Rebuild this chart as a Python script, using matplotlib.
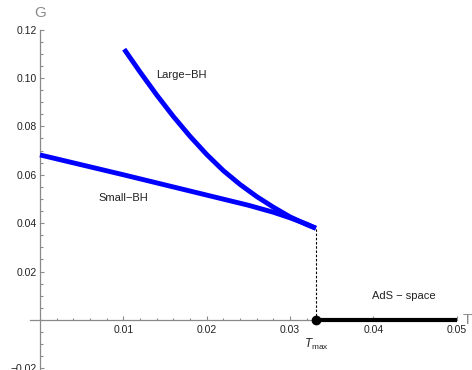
#!/usr/bin/env python3
"""Gibbs free energy G vs temperature T: small/large BH branches and AdS space."""

import matplotlib
matplotlib.use("Agg")
import matplotlib.pyplot as plt
from matplotlib.ticker import MultipleLocator, FixedLocator

# values
small_T = [0.0, 0.005, 0.010, 0.015, 0.020, 0.025, 0.028, 0.030, 0.032, 0.0331]
small_G = [0.0682, 0.0641, 0.0600, 0.0558, 0.0516, 0.0474, 0.0445, 0.0422, 0.0396, 0.0379]

large_T = [0.0101, 0.012, 0.014, 0.016, 0.018, 0.020, 0.022, 0.024, 0.026, 0.028,
           0.030, 0.032, 0.0331]
large_G = [0.1119, 0.1025, 0.0930, 0.0841, 0.0759, 0.0684, 0.0617, 0.0560, 0.0510,
           0.0466, 0.0426, 0.0394, 0.0379]

T_max = 0.0331
G_at_Tmax = 0.0379
ads_T = [T_max, 0.05]
ads_G = [0.0, 0.0]

x_ticks = [0.01, 0.02, 0.03, 0.04, 0.05]
y_ticks = [-0.02, 0.02, 0.04, 0.06, 0.08, 0.10, 0.12]

plt.rcParams["font.family"] = ["Liberation Sans", "DejaVu Sans"]
plt.rcParams["mathtext.fontset"] = "custom"
plt.rcParams["mathtext.rm"] = "Liberation Sans"
plt.rcParams["mathtext.it"] = "Liberation Sans:italic"

W, H = 472, 370
fig = plt.figure(figsize=(W / 100, H / 100), dpi=100)
ax = fig.add_axes([30 / W, 0.0, 426.7 / W, 340.4 / H])
ax.set_xlim(-0.0012, 0.0500)
ax.set_ylim(-0.0207, 0.12)

axis_grey = "#8a8a8a"
for side in ("top", "right"):
    ax.spines[side].set_visible(False)
ax.spines["left"].set_position(("data", 0))
ax.spines["bottom"].set_position(("data", 0))
for side in ("left", "bottom"):
    ax.spines[side].set_color(axis_grey)
    ax.spines[side].set_linewidth(0.9)

ax.xaxis.set_major_locator(FixedLocator(x_ticks))
ax.yaxis.set_major_locator(FixedLocator(y_ticks))
ax.xaxis.set_minor_locator(MultipleLocator(0.002))
ax.yaxis.set_minor_locator(MultipleLocator(0.005))
ax.set_xticklabels([f"{v:.2f}" for v in x_ticks])
ax.set_yticklabels([f"{v:.2f}".replace("-", "\u2212") for v in y_ticks])
ax.tick_params(which="both", direction="in", color=axis_grey, width=0.8,
               labelsize=7.5, labelcolor="#222222")
ax.tick_params(which="major", length=3.2)
ax.tick_params(which="minor", length=1.8)
ax.tick_params(axis="x", pad=4)
ax.tick_params(axis="y", pad=2.5)

# curves
ax.plot(small_T, small_G, color="#0000ff", lw=3.5, solid_capstyle="butt",
        solid_joinstyle="round", zorder=3)
ax.plot(large_T, large_G, color="#0000ff", lw=3.5, solid_capstyle="butt",
        solid_joinstyle="round", zorder=3)
ax.plot([T_max, T_max], [0, G_at_Tmax], color="black", lw=0.8,
        dashes=(2.2, 1.6), zorder=2)
ax.plot(ads_T, ads_G, color="black", lw=3.0, solid_capstyle="butt", zorder=4)
ax.plot([T_max], [0], "o", color="black", ms=6, zorder=5, clip_on=False)

# labels
txt = "#222222"
ax.text(0.0170, 0.1012, "Large\u2212BH", fontsize=8, color=txt, ha="center", va="center")
ax.text(0.0100, 0.0504, "Small\u2212BH", fontsize=8, color=txt, ha="center", va="center")
ax.text(0.0436, 0.0099, "AdS \u2212 space", fontsize=8, color=txt, ha="center", va="center")
ax.text(T_max, -0.0103, r"$T_{\mathrm{max}}$", fontsize=8.5, color=txt,
        ha="center", va="center")
fig.text(40 / W, 1 - 13 / H, "G", fontsize=11, color=axis_grey, ha="center", va="center")
fig.text(467 / W, 1 - 320 / H, "T", fontsize=11, color=axis_grey, ha="center", va="center")

fig.savefig("out.png", dpi=100)
